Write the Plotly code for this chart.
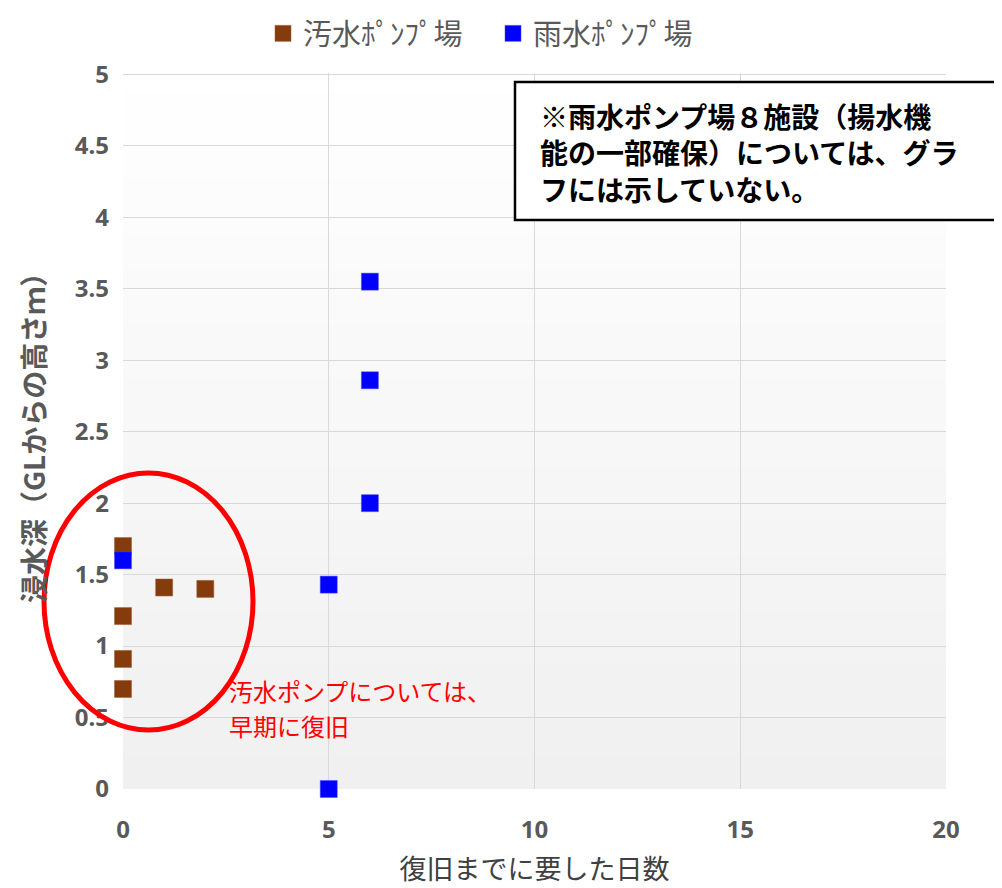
import plotly.graph_objects as go

# Data
sewage_days = [0, 0, 0, 0, 1, 2]
sewage_depth = [1.70, 1.21, 0.91, 0.70, 1.41, 1.40]
rain_days = [0, 5, 5, 6, 6, 6]
rain_depth = [1.60, 1.43, 0.00, 2.00, 2.86, 3.55]
series_names = ["汚水ﾎﾟﾝﾌﾟ場", "雨水ﾎﾟﾝﾌﾟ場"]
x_ticks = [0, 5, 10, 15, 20]
y_ticks = [0, 0.5, 1, 1.5, 2, 2.5, 3, 3.5, 4, 4.5, 5]
note_lines = ["※雨水ポンプ場８施設（揚水機", "能の一部確保）については、グラ", "フには示していない。"]
remark_lines = ["汚水ポンプについては、", "早期に復旧"]

OFF = 8  # default page body margin
W, H = 1002 - OFF, 888 - OFF
# plot area in screen pixels
SX0, SX1, SY0, SY1 = 123, 946, 73, 789
L, T = SX0 - OFF, SY0 - OFF
R, B = W - (SX1 - OFF), H - (SY1 - OFF)
pw, ph = SX1 - SX0, SY1 - SY0

def px_x(p):
    return (p - SX0) / pw

def px_y(p):
    return (SY1 - p) / ph

font_jp = "Noto Sans CJK JP, Noto Sans, sans-serif"
gray = "#595959"

fig = go.Figure()
fig.add_trace(go.Scatter(
    x=sewage_days, y=sewage_depth, mode="markers", name=series_names[0],
    marker=dict(symbol="square", size=17, color="#843C0C",
                line=dict(color="#9a5a30", width=0.5)),
    cliponaxis=False))
fig.add_trace(go.Scatter(
    x=rain_days, y=rain_depth, mode="markers", name=series_names[1],
    marker=dict(symbol="square", size=17, color="#0000FF",
                line=dict(color="#4a4aff", width=0.5)),
    cliponaxis=False))

shapes = []
# gradient background bands
n = 40
for i in range(n):
    t = i / n
    v = int(round(255 - (255 - 240) * (1 - t)))
    shapes.append(dict(type="rect", xref="paper", yref="paper",
                       x0=0, x1=1, y0=t, y1=t + 1.0 / n + 0.002,
                       fillcolor=f"rgb({v},{v},{v})", line=dict(width=0),
                       layer="below"))
# red ellipse
shapes.append(dict(type="circle", xref="paper", yref="paper",
                   x0=px_x(44), x1=px_x(253), y0=px_y(730), y1=px_y(473),
                   line=dict(color="#FF0000", width=5), layer="above"))
# note box
shapes.append(dict(type="rect", xref="paper", yref="paper",
                   x0=px_x(515), x1=px_x(1000), y0=px_y(220), y1=px_y(82),
                   fillcolor="white", line=dict(color="black", width=2.5),
                   layer="above"))

annotations = [dict(
    xref="paper", yref="paper", x=px_x(538), y=px_y(152),
    xanchor="left", yanchor="middle", showarrow=False, align="left",
    text="<b>" + "<br>".join(note_lines) + "</b>",
    font=dict(family=font_jp, size=28, color="#000000"))]
for i, line in enumerate(remark_lines):
    annotations.append(dict(
        xref="paper", yref="paper", x=px_x(227), y=px_y(690 + 35 * i),
        xanchor="left", yanchor="middle", showarrow=False, align="left",
        text=line,
        font=dict(family=font_jp, size=24, color="#FF0000")))

fig.update_layout(
    width=W, height=H,
    margin=dict(l=L, r=R, t=T, b=B, autoexpand=False),
    paper_bgcolor="white", plot_bgcolor="rgba(0,0,0,0)",
    shapes=shapes, annotations=annotations,
    legend=dict(orientation="h", x=px_x(263), xanchor="left",
                y=px_y(8), yanchor="top",
                font=dict(family=font_jp, size=29, color=gray),
                bgcolor="rgba(0,0,0,0)", itemwidth=30,
                entrywidth=185, entrywidthmode="pixels"),
    xaxis=dict(range=[0, 20], tickvals=x_ticks, showgrid=True,
               gridcolor="#D9D9D9", gridwidth=1, zeroline=False,
               showline=False, ticks="", ticklen=0, automargin=False,
               ticklabelstandoff=24,
               tickfont=dict(family="Noto Sans, sans-serif", size=24, color=gray),
               title=dict(text="復旧までに要した日数", standoff=16,
                          font=dict(family=font_jp, size=27, color="#404040"))),
    yaxis=dict(range=[0, 5.01], tickvals=y_ticks, showgrid=True,
               gridcolor="#D9D9D9", gridwidth=1, zeroline=False,
               showline=False, ticks="", automargin=False,
               tickfont=dict(family="Noto Sans, sans-serif", size=24, color=gray),
               ticklabelstandoff=13,
               title=dict(text="<b>浸水深（GLからの高さｍ）</b>", standoff=20,
                          font=dict(family=font_jp, size=28, color=gray))),
)
fig.update_xaxes(tickfont_weight="bold")
fig.update_yaxes(tickfont_weight="bold")

fig.write_html("out.html")
